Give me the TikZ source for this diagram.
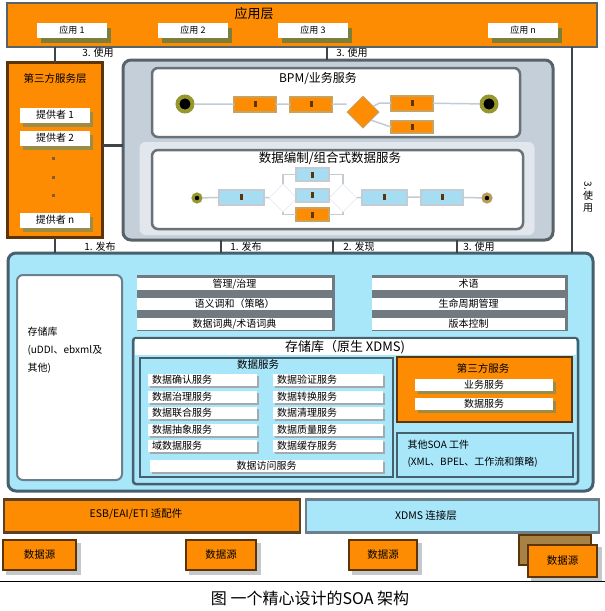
\documentclass[tikz,border=0pt]{standalone}
\usepackage{fontspec}
\setmainfont{Noto Sans CJK SC}
\usetikzlibrary{positioning,shapes.geometric,calc}
\definecolor{orng}{HTML}{FD8C02}
\definecolor{brn}{HTML}{5C3406}
\definecolor{gry}{HTML}{586269}
\definecolor{stl}{HTML}{46606E}
\definecolor{skyb}{HTML}{A8E6FA}
\definecolor{frm}{HTML}{C4CFD9}
\definecolor{olv}{HTML}{7C7E3A}
\definecolor{tanc}{HTML}{C9A25E}
\definecolor{lblu}{HTML}{A6DDF2}
\definecolor{lgry}{HTML}{C3CCD3}
\newcommand\fsz[1]{\fontsize{#1}{#1}\selectfont}
\tikzset{
  bx/.style={inner sep=0pt,outer sep=0pt},
  shbox/.style={bx,fill=#1},
  toplay/.style={bx,fill=orng,draw=gry,line width=2.5pt},
  orlay/.style={bx,fill=orng,draw=brn,line width=2.5pt},
  repo/.style={bx,fill=skyb,draw=stl,line width=3pt,rounded corners=8pt},
  svcframe/.style={bx,fill=frm,draw=gry,line width=3pt,rounded corners=8pt},
  panel/.style={bx,fill=white,draw=gry!90,line width=2.5pt,rounded corners=6pt},
  app/.style={bx,fill=white,minimum width=70,minimum height=15,font=\fsz{9}},
  prov/.style={bx,fill=white,minimum width=70,minimum height=15,font=\fsz{10}},
  wbar/.style={bx,fill=white,minimum height=12,font=\fsz{10}},
  sitem/.style={bx,fill=white,minimum height=12,inner xsep=4pt,align=left,font=\fsz{10}},
  task/.style={bx,fill=orng,draw=tanc,line width=2pt,minimum width=42,minimum height=15,
    path picture={\fill[brn] ([xshift=-1pt,yshift=-3pt]path picture bounding box.center)
      rectangle ([xshift=1.5pt,yshift=3pt]path picture bounding box.center);}},
  btask/.style={task,fill=lblu,draw=lgry},
  ev/.style={circle,fill=black,draw=olv!80!yellow,line width=4pt,minimum size=15,inner sep=0pt},
  gw/.style={diamond,fill=orng,draw=tanc,line width=1pt,minimum size=32,inner sep=0pt},
  fgw/.style={diamond,draw=lgry!60,fill=white,minimum size=28,inner sep=0pt},
  flow/.style={draw=lgry,line width=1.5pt},
  conn/.style={draw=gry!70!black,line width=2.5pt},
  lbl/.style={font=\fsz{10}},
  dsrc/.style={bx,fill=orng,draw=brn,line width=2pt,minimum height=30,font=\fsz{10.5}},
}
\begin{document}
\begin{tikzpicture}[x=1pt,y=-1pt]
\useasboundingbox (0,0) rectangle (605,611);
% application layer
\node[toplay,minimum width=590,minimum height=44] (appl) at (302,25) {};
\node[font=\fsz{13}] (applt) at (254,14) {应用层};
\foreach \x/\n/\t in {72/a1/应用 1,193/a2/应用 2,313/a3/应用 3,523/an/应用 n}{
  \node[shbox=olv,minimum width=70,minimum height=15] (\n s) at (\x+4,35) {};
  \node[app] (\n) at (\x,30) {\t};
}

% third-party service layer
\node[orlay,minimum width=95,minimum height=175] (tpl) at (55,150) {};
\node[font=\fsz{10.5}] (tplt) at (55,79) {第三方服务层};
\foreach \y/\n/\t in {115/p1/提供者 1,138/p2/提供者 2,220/pn/提供者 n}{
  \node[shbox=olv!60!tanc,minimum width=70,minimum height=15] (\n s) at (58,\y+4) {};
  \node[prov] (\n) at (55,\y) {\t};
}
\foreach \y in {157,176,194} \fill[brn!80] (52,\y) rectangle ++(3,3);

% services frame
\node[svcframe,minimum width=430,minimum height=180] (svc) at (338,150) {};
\node[panel,minimum width=368,minimum height=69] (bpm) at (336,102.5) {};
\node[font=\fsz{12}] (bpmt) at (318,79) {BPM/业务服务};
\node[ev] (s1) at (185,104) {};
\node[task] (t1) at (255,104) {};
\node[task] (t2) at (311,104) {};
\node[gw] (d1) at (363,112) {};
\node[task] (t3) at (412,103) {};
\node[task,minimum height=12] (t4) at (412,127) {};
\node[ev] (e1) at (489,104) {};
\draw[flow] (s1) -- (t1) -- (t2) -- (d1.west |- t2) (d1) -- (t3 -| d1.east) -- (t3);
\draw[flow] (d1.south east) -- (t4.west);
\draw[flow] (t3) -- (e1);

\node[bx,fill=frm!50!white,rounded corners=6pt,minimum width=395,minimum height=93] (dsb) at (337,188.5) {};
\node[panel,minimum width=371,minimum height=79] (dsp) at (337.5,189.5) {};
\node[font=\fsz{12.5}] (dspt) at (330,158) {数据编制/组合式数据服务};
\node[ev,minimum size=8,line width=3pt] (s2) at (197,198) {};
\node[btask,minimum width=45] (u1) at (241,197) {};
\node[fgw] (g1) at (283,198) {};
\node[fgw] (g2) at (343,198) {};
\node[btask,minimum width=33,minimum height=13] (u2) at (312,174.5) {};
\node[btask,minimum width=33,minimum height=13] (u3) at (312,195) {};
\node[task,minimum width=33,minimum height=13] (u4) at (312,214.5) {};
\node[btask,minimum width=45] (u5) at (384,197) {};
\node[btask,minimum width=42] (u6) at (442,197) {};
\node[ev,minimum size=8,line width=3pt,draw=tanc!80!olv] (e2) at (487,198) {};
\draw[flow] (s2) -- (u1) -- (g1) -- (u3) -- (g2) -- (u5) -- (u6) -- (e2);
\draw[flow] (g1.north) |- (u2) -| (g2.north);
\draw[flow] (g1.south) |- (u4) -| (g2.south);

% repository
\node[repo,minimum width=585,minimum height=238] (rep) at (300.5,372) {};
\node[bx,fill=white,draw=stl!80,line width=2pt,rounded corners=6pt,minimum width=105,minimum height=205] (reg) at (69.5,377.5) {};
\node[anchor=west,align=left,font=\fontsize{10}{18}\selectfont] (regt) at (24,350) {存储库\\(uDDI、ebxml及\\其他)};

\node[bx,fill=gry!85,minimum width=198,minimum height=56] (lbg) at (236,302.5) {};
\node[bx,fill=gry!85,minimum width=196,minimum height=56] (rbg) at (470,302.5) {};
\foreach \t [count=\i] in {{管理/治理},{语义调和（策略）},{数据词典/术语词典}}
  \node[wbar,minimum width=195] (lb\i) at (234.5,{264+20*\i}) {\t};
\foreach \t [count=\i] in {{术语},{生命周期管理},{版本控制}}
  \node[wbar,minimum width=193] (rb\i) at (468.5,{264+20*\i}) {\t};

\node[bx,fill=skyb,draw=stl,line width=2.5pt,rounded corners=3pt,minimum width=445,minimum height=146] (nat) at (355.5,411) {};
\node[bx,fill=white,minimum width=441,minimum height=16] (natb) at (355.5,347) {};
\node[font=\fsz{13}] (natt) at (345,347) {存储库（原生 XDMS)};

% data services
\node[bx,fill=skyb,draw=stl,line width=2.5pt,minimum width=253,minimum height=119] (dsv) at (266.5,417.5) {};
\node[font=\fsz{10.5}] (dsvt) at (258,365) {数据服务};
\foreach \l/\r [count=\i] in {数据确认服务/数据验证服务,数据治理服务/数据转换服务,
    数据联合服务/数据清理服务,数据抽象服务/数据质量服务,域数据服务/数据缓存服务}{
  \node[shbox=gry!55,minimum width=109,minimum height=12] (dl\i s) at (204.5,{365.5+16.5*\i}) {};
  \node[shbox=gry!55,minimum width=110,minimum height=12] (dr\i s) at (330,{365.5+16.5*\i}) {};
  \node[sitem,text width=101] (dl\i) at (202.5,{363.5+16.5*\i}) {\l};
  \node[sitem,text width=102] (dr\i) at (328,{363.5+16.5*\i}) {\r};
}
\node[shbox=gry!55,minimum width=233,minimum height=12] (daccs) at (268.5,467.5) {};
\node[sitem,minimum width=233] (dacc) at (266.5,465.5) {数据访问服务};

% third-party services
\node[orlay,minimum width=175,minimum height=65] (tps) at (484.5,389.5) {};
\node[font=\fsz{10.5}] (tpst) at (483,368) {第三方服务};
\foreach \y/\n/\t in {385/bsv/业务服务,404/dsv2/数据服务}{
  \node[shbox=olv!60!tanc,minimum width=138,minimum height=12] (\n s) at (487,\y+3) {};
  \node[prov,minimum width=138,minimum height=12] (\n) at (484,\y) {\t};
}

% other SOA artefacts
\node[bx,fill=skyb,draw=stl,line width=2.5pt,minimum width=176,minimum height=44] (soa) at (485,455) {};
\node[anchor=west,align=left,font=\fontsize{10}{17}\selectfont] (soat) at (404,453.5) {其他SOA 工件\\(XML、BPEL、工作流和策略)};

% connectors
\coordinate (c3) at (327,0);
\coordinate (c4) at (572,0);
\coordinate (c5) at (221,0);
\coordinate (c6) at (333,0);
\coordinate (c7) at (457,0);
\draw[conn] (appl.south -| tpl.north) -- (tpl.north);
\draw[conn] (appl.south -| c3) -- (svc.north -| c3);
\draw[conn] (appl.south -| c4) -- (rep.north -| c4);
\draw[conn] (tpl.south) -- (tpl.south |- rep.north);
\draw[conn] (svc.south -| c5) -- (rep.north -| c5);
\draw[conn] (svc.south -| c6) -- (rep.north -| c6);
\draw[conn] (svc.south -| c7) -- (rep.north -| c7);
\draw[conn] (tpl.east |- p2.south) -- (svc.west |- p2.south);
\node[lbl] (use1) at (98,53) {3. 使用};
\node[lbl] (use2) at (352,53) {3. 使用};
\node[font=\fontsize{10}{12}\selectfont,align=center] (use3) at (588,197) {\rotatebox{-90}{3.}\\使\\用};
\node[lbl] (pub1) at (100,247) {1. 发布};
\node[lbl] (pub2) at (246,247) {1. 发布};
\node[lbl] (fnd) at (359,247) {2. 发现};
\node[lbl] (use4) at (479,247) {3. 使用};

% bottom layers
\node[bx,fill=orng,draw=brn!70!gry,line width=2.5pt,minimum width=296,minimum height=33] (esb) at (152,516) {};
\node[font=\fsz{10.5}] (esbt) at (136,514) {ESB/EAI/ETI 适配件};
\node[bx,fill=skyb,draw=stl!80,line width=2.5pt,minimum width=293,minimum height=33] (xdc) at (452.5,516) {};
\node[font=\fsz{10.5}] (xdct) at (426,516) {XDMS 连接层};
\foreach \x/\w/\n in {39.5/73/ds1,221/70/ds2,383/68/ds3}{
  \node[shbox=gry!35,minimum width=\w+2,minimum height=32] (\n s) at (\x+4,559) {};
  \node[dsrc,minimum width=\w] (\n) at (\x,555) {数据源};
}
\node[bx,fill=tanc!70!brn,draw=brn,line width=2pt,minimum width=72,minimum height=30] (ds4b) at (555,550) {};
\node[shbox=gry!35,minimum width=71,minimum height=34] (ds4s) at (566.5,564) {};
\node[dsrc,minimum width=69,minimum height=32] (ds4) at (562.5,561) {数据源};

% caption
\draw[line width=0.8pt] (0,581) -- (605,581);
\node[font=\fsz{16}] (cap) at (310,598) {图\ 一个精心设计的SOA 架构};
\end{tikzpicture}
\end{document}
